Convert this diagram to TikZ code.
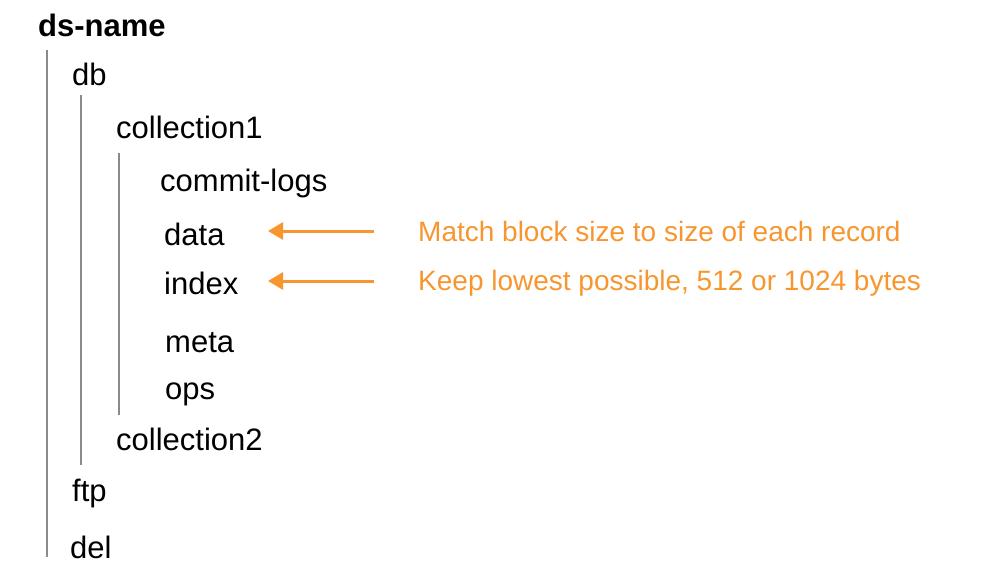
\documentclass[tikz,border=0pt]{standalone}
\usepackage{fontspec}
\setmainfont{Liberation Sans}
\usetikzlibrary{arrows.meta}
\definecolor{treegray}{HTML}{8A8A8A}
\definecolor{noteorange}{HTML}{F7962F}
\tikzset{
  item/.style={anchor=base west, inner sep=0pt, font=\fontsize{31}{35}\selectfont, text=black},
  rootitem/.style={item, font=\fontsize{31}{35}\selectfont\bfseries},
  note/.style={anchor=base west, inner sep=0pt, font=\fontsize{28}{32}\selectfont, text=noteorange},
  guide/.style={draw=treegray, line width=2pt},
  pointer/.style={draw=noteorange, line width=3pt, -{Triangle[length=15pt,width=17pt]}},
}
\begin{document}
\begin{tikzpicture}[x=1pt,y=-1pt]
\useasboundingbox (0,0) rectangle (986,578);
\node[rootitem] (root) at (38,37) {ds-name};
\node[item] (db) at (72,86) {db};
\node[item] (c1) at (116,139) {collection1};
\node[item] (cl) at (160,191) {commit-logs};
\node[item] (data) at (164,245) {data};
\node[item] (index) at (164,294) {index};
\node[item] (meta) at (165,352) {meta};
\node[item] (ops) at (165,399) {ops};
\node[item] (c2) at (116,450) {collection2};
\node[item] (ftp) at (72,501) {ftp};
\node[item] (del) at (70,558) {del};
\coordinate (g1a) at (47,50);
\coordinate (g1b) at (47,557);
\coordinate (g2a) at (81,95);
\coordinate (g2b) at (81,465);
\coordinate (g3a) at (119,153);
\coordinate (g3b) at (119,415);
\draw[guide] (g1a) -- (g1b);
\draw[guide] (g2a) -- (g2b);
\draw[guide] (g3a) -- (g3b);
\node[note] (n1) at (418,241) {Match block size to size of each record};
\node[note] (n2) at (418,290) {Keep lowest possible, 512 or 1024 bytes};
\coordinate (a1s) at (374,231);
\coordinate (a1e) at (268,231);
\coordinate (a2s) at (374,281);
\coordinate (a2e) at (268,281);
\draw[pointer] (a1s) -- (a1e);
\draw[pointer] (a2s) -- (a2e);
\end{tikzpicture}
\end{document}
